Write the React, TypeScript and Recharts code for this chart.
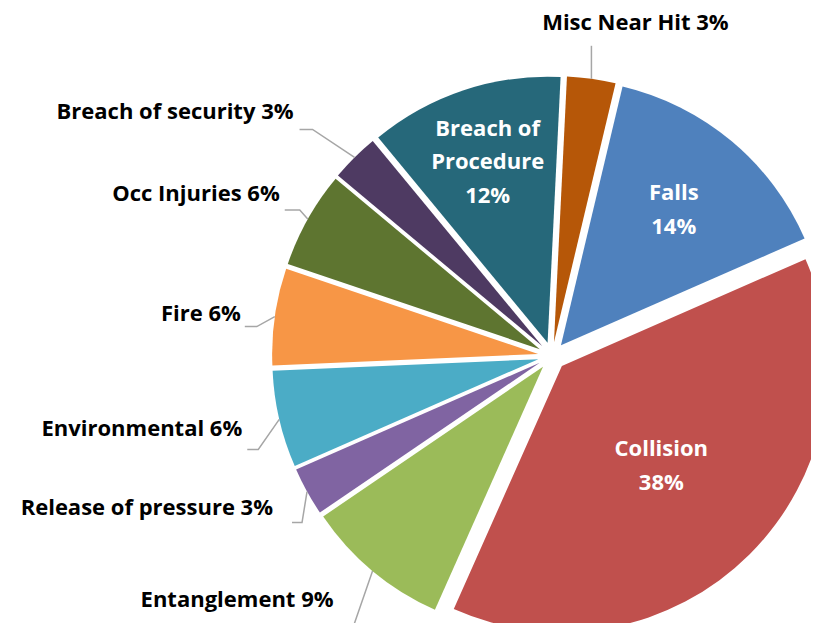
import { Cell, Pie, PieChart, Sector } from 'recharts';

const categories = [
  'Misc Near Hit',
  'Falls',
  'Collision',
  'Entanglement',
  'Release of pressure',
  'Environmental',
  'Fire',
  'Occ Injuries',
  'Breach of security',
  'Breach of Procedure',
];
// incident counts
const incidents = [1, 5, 13, 3, 1, 2, 2, 2, 1, 4];
// percentages as printed on the chart
const shareLabels = ['3%', '14%', '38%', '9%', '3%', '6%', '6%', '6%', '3%', '12%'];
const colors = ['#B65708', '#4F81BD', '#C0504D', '#9BBB59', '#8064A2', '#4BACC6', '#F79646', '#5E7530', '#4E3A62', '#26687A'];

const data = categories.map((name, i) => ({ name, value: incidents[i], share: shareLabels[i] }));

const EXPLODE = 14;
const FONT = '"Open Sans", Lato, sans-serif';
const FONT_SIZE = 22;
const RAD = Math.PI / 180;

// labels drawn inside the slice: lines + distance from the slice tip
const insideLabels: Record<number, { lines: string[]; r: number }> = {
  1: { lines: ['Falls'], r: 176 },
  2: { lines: ['Collision'], r: 141 },
  9: { lines: ['Breach of', 'Procedure'], r: 190 },
};

// outside labels: offsets from the slice's outer edge (elbow of the leader, text anchor)
const outsideLayout: Record<number, { elbow: [number, number]; seg: number; text: [number, number]; anchor: 'end' | 'middle' }> = {
  0: { elbow: [0, -33], seg: 0, text: [44, -49], anchor: 'middle' },
  3: { elbow: [-19, 55], seg: 11, text: [-39, 36], anchor: 'end' },
  4: { elbow: [-5, 31], seg: 10, text: [-34, 23], anchor: 'end' },
  5: { elbow: [-21, 30], seg: 11, text: [-37, 17], anchor: 'end' },
  6: { elbow: [-18, 10], seg: 12, text: [-34, 4], anchor: 'end' },
  7: { elbow: [-8, -9], seg: 15, text: [-28, -18], anchor: 'end' },
  8: { elbow: [-42, -28], seg: 13, text: [-61, -38], anchor: 'end' },
};

function polar(cx: number, cy: number, r: number, angle: number) {
  return { x: cx + r * Math.cos(-angle * RAD), y: cy + r * Math.sin(-angle * RAD) };
}

function ExplodedSlice(props: any) {
  const mid = (props.startAngle + props.endAngle) / 2;
  const shift = polar(0, 0, EXPLODE, mid);
  return <Sector {...props} cx={props.cx + shift.x} cy={props.cy + shift.y} stroke="none" />;
}

function SliceLabel(props: any) {
  const { cx, cy, outerRadius, startAngle, endAngle, index } = props;
  const mid = (startAngle + endAngle) / 2;
  const name = categories[index];
  const share = shareLabels[index];

  const inside = insideLabels[index];
  if (inside) {
    const p = polar(cx, cy, EXPLODE + inside.r, mid);
    const lines = [...inside.lines, share];
    const lh = 33.5;
    const top = p.y - ((lines.length - 1) * lh) / 2 + 7;
    return (
      <text x={p.x} textAnchor="middle" fill="#FFFFFF" fontFamily={FONT} fontWeight={700} fontSize={FONT_SIZE}>
        {lines.map((l, k) => (
          <tspan key={k} x={p.x} y={top + k * lh}>
            {l}
          </tspan>
        ))}
      </text>
    );
  }

  const layout = outsideLayout[index];
  const edge = polar(cx, cy, outerRadius + EXPLODE, mid);
  const ex = edge.x + layout.elbow[0];
  const ey = edge.y + layout.elbow[1];
  return (
    <g>
      <path
        d={`M${edge.x},${edge.y}L${ex},${ey}` + (layout.seg ? `L${ex - layout.seg},${ey}` : '')}
        fill="none"
        stroke="#A6A6A6"
        strokeWidth={1.5}
      />
      <text
        x={edge.x + layout.text[0]}
        y={edge.y + layout.text[1]}
        textAnchor={layout.anchor}
        fill="#000000"
        fontFamily={FONT}
        fontWeight={700}
        fontSize={FONT_SIZE}
      >
        {`${name} ${share}`}
      </text>
    </g>
  );
}

export default function App() {
  return (
    <div style={{ margin: -8, width: 819, height: 631, background: '#FFFFFF' }}>
      <PieChart width={819} height={631} margin={{ top: 0, right: 0, bottom: 0, left: 0 }}>
        <Pie
          data={data}
          dataKey="value"
          nameKey="name"
          cx={552}
          cy={356}
          outerRadius={266}
          startAngle={87.2}
          endAngle={-272.8}
          stroke="none"
          shape={ExplodedSlice}
          label={SliceLabel}
          labelLine={false}
          isAnimationActive={false}
        >
          {data.map((d, i) => (
            <Cell key={d.name} fill={colors[i]} />
          ))}
        </Pie>
      </PieChart>
    </div>
  );
}
